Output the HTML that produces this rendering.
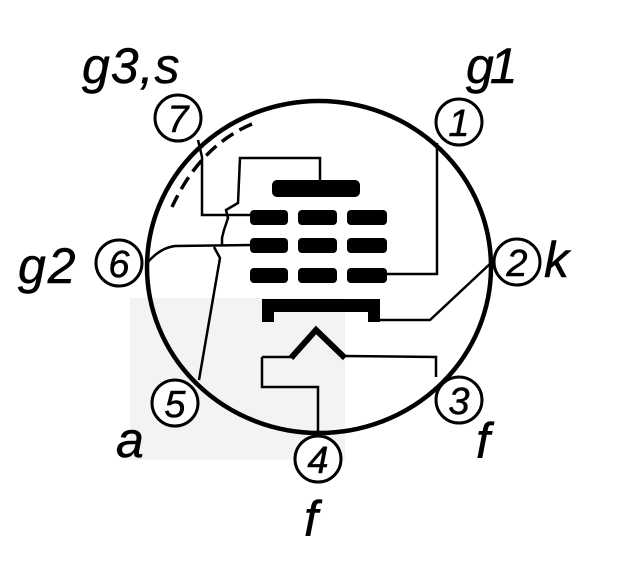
<!DOCTYPE html>
<html><head><meta charset="utf-8"><style>
html,body{margin:0;padding:0;background:#fff;}
svg{display:block;}
text{font-family:"Liberation Sans",sans-serif;font-style:italic;fill:#000;}
</style></head><body>
<svg width="640" height="571" viewBox="0 0 640 571" xmlns="http://www.w3.org/2000/svg">
<rect x="130" y="298" width="215" height="162" fill="#f3f3f3"/>
<ellipse cx="319" cy="267" rx="172" ry="166" fill="none" stroke="#000" stroke-width="4.5"/>
<g fill="none" stroke="#000" stroke-width="2.5" stroke-linejoin="miter">
<path d="M198,140 L202,157 L202,215 L252,215"/>
<path d="M320,182 L320,158 L240,158 L238,203 L226,210 L228,218 L224,230 L222,238 L222,245"/>
<path d="M148,262 Q160,248 175,246 L252,245"/>
<path d="M214,247 L220,258 L199,380"/>
<path d="M387,274 L437,274 L437,143"/>
<path d="M380,320 L430,320 L492,262"/>
<path d="M262,357 L293,357"/>
<path d="M343,356 L436,357 L436,377"/>
<path d="M262,357 L262,387 L318,387 L318,434"/>
</g>
<path d="M252,124 Q200,146 172,207" fill="none" stroke="#000" stroke-width="3.5" stroke-dasharray="14,7"/>
<path d="M291,358 L316,330 L345,358" fill="none" stroke="#000" stroke-width="6" stroke-linejoin="miter"/>
<g fill="#000">
<rect x="272" y="180" width="88" height="17" rx="5"/>
<rect x="250" y="210" width="38" height="15" rx="4"/>
<rect x="298" y="210" width="39" height="15" rx="4"/>
<rect x="347" y="210" width="40" height="15" rx="4"/>
<rect x="250" y="238" width="38" height="15" rx="4"/>
<rect x="298" y="238" width="39" height="15" rx="4"/>
<rect x="347" y="238" width="40" height="15" rx="4"/>
<rect x="250" y="268" width="38" height="15" rx="4"/>
<rect x="298" y="268" width="39" height="15" rx="4"/>
<rect x="347" y="268" width="40" height="15" rx="4"/>
<path d="M262,299 L380,299 L380,322 L368,322 L368,312 L274,312 L274,322 L262,322 Z"/>
</g>
<g fill="#fff" stroke="#000" stroke-width="3">
<circle cx="178" cy="118" r="23"/>
<circle cx="459" cy="122" r="23"/>
<circle cx="517" cy="262" r="23"/>
<circle cx="119" cy="263" r="23"/>
<circle cx="175" cy="403" r="23"/>
<circle cx="459" cy="400" r="23"/>
<circle cx="318" cy="459" r="23"/>
</g>
<g font-size="38" text-anchor="middle" stroke="#000" stroke-width="0.5">
<text x="178" y="132">7</text>
<text x="459" y="136">1</text>
<text x="517" y="276">2</text>
<text x="119" y="277">6</text>
<text x="175" y="417">5</text>
<text x="459" y="414">3</text>
<text x="318" y="473">4</text>
</g>
<g font-size="50" stroke="#000" stroke-width="0.5">
<text x="82" y="83" letter-spacing="1">g3,s</text>
<text x="466" y="83" letter-spacing="-4">g1</text>
<text x="18" y="283" letter-spacing="2">g2</text>
<text x="544" y="277">k</text>
<text x="116" y="457">a</text>
<text x="476" y="458">f</text>
<text x="304" y="536">f</text>
</g>
</svg>
</body></html>
